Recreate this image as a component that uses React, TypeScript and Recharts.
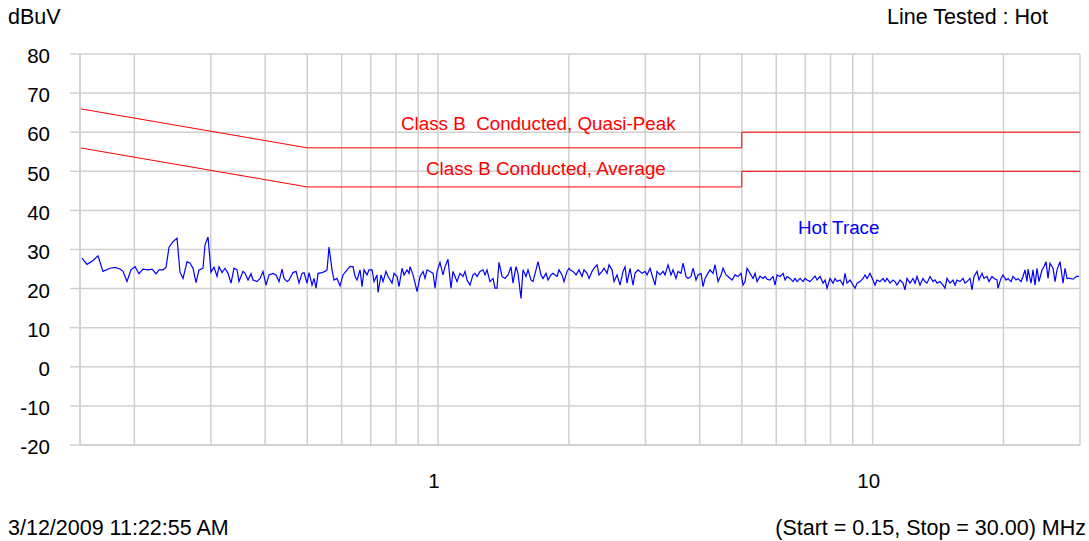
import { LineChart, Line, XAxis, YAxis, CartesianGrid } from "recharts";

const FONT = "'Liberation Sans', Arial, Helvetica, sans-serif";
const GRID = "#d0d0d0";

// log grid, only 1 and 10 get a label
const freqTicks = [
  0.15, 0.2, 0.3, 0.4, 0.5, 0.6, 0.7, 0.8, 0.9, 1, 2, 3, 4, 5, 6, 7, 8, 9, 10,
  20, 30,
];
const labelledFreqs = [1, 10];
const levelTicks = [-20, -10, 0, 10, 20, 30, 40, 50, 60, 70, 80];

// EN55022 class B limits
const limitMHz = [0.15, 0.5, 5, 5, 30];
const qpLimit = [66, 56, 56, 60, 60];
const avgLimit = [56, 46, 46, 50, 50];

// hot line scan
const traceMHz = [
  0.1516, 0.1557, 0.1607, 0.165, 0.1694, 0.1759, 0.1806, 0.1854, 0.1884, 0.1924,
  0.1965, 0.2008, 0.205, 0.2094, 0.2151, 0.2197, 0.2244, 0.228, 0.2329, 0.2366,
  0.2404, 0.2455, 0.2508, 0.2548, 0.2589, 0.2645, 0.2687, 0.273, 0.2774, 0.2818,
  0.2878, 0.2909, 0.2956, 0.3003, 0.3051, 0.31, 0.3133, 0.3184, 0.3235, 0.3286,
  0.3339, 0.3392, 0.3447, 0.3483, 0.3558, 0.3596, 0.3654, 0.3712, 0.3752, 0.3832,
  0.3894, 0.3956, 0.4019, 0.4083, 0.4171, 0.4238, 0.4306, 0.4375, 0.4421, 0.4492,
  0.454, 0.4637, 0.4712, 0.4787, 0.4864, 0.4916, 0.4995, 0.5048, 0.5129, 0.5183,
  0.5239, 0.5294, 0.5408, 0.5495, 0.5553, 0.5612, 0.5702, 0.5763, 0.5855, 0.5949,
  0.6044, 0.6174, 0.6273, 0.6373, 0.6442, 0.651, 0.6614, 0.6685, 0.6756, 0.6864,
  0.6937, 0.7049, 0.7123, 0.7238, 0.7276, 0.7393, 0.7471, 0.7591, 0.7672, 0.7837,
  0.792, 0.8047, 0.8132, 0.8263, 0.8351, 0.8485, 0.8575, 0.8621, 0.8759, 0.8853,
  0.8947, 0.909, 0.9235, 0.9334, 0.9434, 0.9585, 0.9738, 0.9843, 0.9947, 1.0103,
  1.0265, 1.0375, 1.054, 1.0709, 1.0823, 1.094, 1.1056, 1.1233, 1.1413, 1.1535,
  1.1658, 1.1844, 1.2033, 1.2163, 1.2292, 1.2489, 1.2689, 1.2825, 1.2961, 1.3168,
  1.3379, 1.3522, 1.3666, 1.3811, 1.4034, 1.4259, 1.4486, 1.4718, 1.4874, 1.5113,
  1.5274, 1.5519, 1.5684, 1.5936, 1.6105, 1.6363, 1.6537, 1.6803, 1.6982, 1.7254,
  1.7438, 1.7717, 1.7906, 1.8193, 1.8387, 1.8781, 1.898, 1.9286, 1.949, 1.9803,
  2.0013, 2.012, 2.0442, 2.077, 2.1102, 2.1442, 2.1669, 2.2017, 2.225, 2.2609,
  2.2849, 2.3216, 2.3462, 2.3839, 2.4092, 2.4479, 2.4738, 2.5137, 2.5403, 2.5811,
  2.6224, 2.6644, 2.6929, 2.7215, 2.7651, 2.8093, 2.8395, 2.8848, 2.9468, 2.994,
  3.0258, 3.0743, 3.1235, 3.157, 3.1905, 3.2416, 3.2935, 3.3288, 3.382, 3.4361,
  3.4727, 3.5284, 3.566, 3.6231, 3.6617, 3.7204, 3.7601, 3.8202, 3.8609, 3.9228,
  3.9647, 4.0281, 4.071, 4.1147, 4.1584, 4.225, 4.2926, 4.3387, 4.4079, 4.4785,
  4.5262, 4.5988, 4.6478, 4.7476, 4.8237, 4.9007, 4.9791, 5.0321, 5.0861, 5.1401,
  5.2225, 5.3061, 5.363, 5.4199, 5.5067, 5.5948, 5.6548, 5.7149, 5.8063, 5.8992,
  5.9625, 6.0258, 6.1223, 6.2203, 6.287, 6.3537, 6.4555, 6.5588, 6.6292, 6.6995,
  6.8068, 6.9157, 6.9899, 7.0641, 7.1772, 7.292, 7.3703, 7.4485, 7.5678, 7.6889,
  7.7714, 7.8539, 7.9797, 8.1074, 8.1944, 8.2813, 8.4139, 8.5485, 8.6402, 8.732,
  8.8718, 9.0137, 9.1105, 9.2072, 9.3546, 9.5043, 9.6062, 9.7082, 9.8601, 10.018,
  10.125, 10.233, 10.397, 10.563, 10.677, 10.79, 10.963, 11.138, 11.258, 11.377,
  11.559, 11.744, 11.87, 11.996, 12.188, 12.383, 12.516, 12.649, 12.852, 13.058,
  13.198, 13.338, 13.551, 13.768, 13.916, 14.063, 14.289, 14.518, 14.673, 14.829,
  15.066, 15.307, 15.471, 15.636, 15.886, 16.14, 16.313, 16.487, 16.751, 16.93,
  17.109, 17.384, 17.568, 17.851, 18.04, 18.33, 18.524, 18.82, 19.019, 19.325,
  19.427, 19.738, 19.948, 20.268, 20.484, 20.815, 21.036, 21.374, 21.602, 21.948,
  22.181, 22.419, 22.657, 22.777, 23.142, 23.388, 23.639, 23.89, 24.143, 24.533,
  24.792, 25.057, 25.324, 25.594, 26.003, 26.282, 26.561, 26.986, 27.418, 27.712,
  28.006, 28.455, 28.91, 29.531, 29.844,
];

const traceDbuv = [
  27.8, 26.2, 27.2, 28.4, 24.4, 25.2, 25.4, 25.0, 24.4, 21.8,
  24.8, 25.6, 23.8, 25.0, 24.8, 25.0, 23.8, 24.8, 24.8, 25.4,
  30.6, 32.0, 32.9, 24.2, 22.6, 26.9, 26.5, 25.2, 21.5, 24.8,
  25.2, 31.2, 33.2, 24.2, 25.5, 23.1, 25.6, 24.1, 25.2, 23.9,
  21.4, 25.2, 24.8, 21.8, 24.4, 23.9, 22.2, 23.8, 22.2, 21.8,
  22.6, 24.4, 20.9, 23.5, 23.9, 23.5, 21.8, 25.0, 22.6, 21.8,
  22.2, 24.1, 24.4, 21.4, 23.9, 24.1, 21.4, 24.1, 20.9, 22.6,
  20.1, 23.9, 24.1, 24.4, 24.8, 30.6, 24.8, 22.2, 22.6, 20.7,
  23.5, 24.8, 25.6, 25.6, 23.1, 22.2, 24.8, 20.5, 24.8, 23.5,
  24.8, 24.8, 21.8, 23.5, 19.0, 23.5, 21.8, 24.4, 23.1, 21.4,
  23.9, 23.1, 20.5, 25.2, 23.5, 24.8, 23.9, 25.6, 23.5, 21.4,
  19.2, 23.1, 24.4, 22.6, 24.8, 24.4, 23.9, 20.1, 24.4, 26.7,
  23.5, 25.6, 27.5, 20.1, 24.4, 23.1, 21.8, 23.9, 23.1, 24.4,
  22.2, 20.9, 23.5, 23.9, 23.1, 24.4, 24.8, 23.5, 24.8, 21.8,
  22.6, 20.1, 20.1, 26.7, 23.1, 22.6, 23.5, 25.6, 21.4, 25.6,
  23.9, 17.5, 24.8, 23.1, 24.8, 22.2, 21.8, 24.8, 26.9, 23.5,
  22.6, 23.9, 22.2, 23.5, 23.9, 23.1, 24.8, 23.5, 21.8, 24.4,
  25.2, 24.8, 24.4, 23.5, 24.8, 23.1, 24.8, 23.9, 22.6, 24.4,
  25.2, 26.1, 23.5, 24.4, 25.2, 23.9, 26.1, 24.8, 21.8, 23.5,
  20.9, 24.4, 25.6, 21.4, 25.2, 20.9, 23.9, 24.8, 23.9, 24.4,
  23.5, 25.2, 22.6, 20.9, 24.4, 23.5, 24.4, 23.5, 26.1, 23.5,
  24.8, 22.6, 24.4, 23.9, 26.5, 23.1, 22.6, 23.1, 25.2, 22.2,
  23.5, 23.9, 20.5, 22.6, 23.5, 24.8, 23.9, 26.1, 21.8, 23.5,
  25.2, 23.5, 23.1, 22.2, 23.5, 23.1, 23.9, 20.9, 21.8, 25.2,
  23.9, 22.6, 23.9, 21.8, 23.2, 22.6, 23.1, 22.4, 22.2, 23.1,
  20.9, 23.5, 23.1, 23.9, 22.2, 23.1, 22.6, 21.8, 22.6, 21.8,
  22.6, 21.8, 22.6, 22.2, 21.8, 22.6, 23.2, 22.2, 23.1, 21.4,
  22.2, 20.1, 22.6, 21.4, 22.6, 21.8, 22.2, 20.9, 23.9, 21.4,
  22.2, 20.9, 20.1, 21.4, 21.8, 22.6, 23.5, 22.6, 23.9, 22.2,
  20.9, 22.2, 21.8, 22.6, 21.8, 22.6, 21.4, 22.2, 21.8, 20.9,
  22.2, 21.4, 19.7, 22.6, 21.4, 22.6, 21.4, 23.1, 20.9, 22.6,
  21.8, 21.4, 23.1, 21.8, 22.2, 21.4, 21.8, 20.9, 20.1, 22.6,
  21.4, 22.2, 20.9, 22.2, 21.8, 22.6, 21.4, 21.8, 22.6, 19.7,
  23.1, 24.4, 22.2, 23.9, 22.6, 23.1, 21.8, 23.1, 22.6, 22.2,
  20.1, 22.6, 23.5, 22.2, 22.6, 21.8, 23.1, 22.2, 22.6, 21.8,
  23.1, 24.8, 21.8, 25.0, 21.4, 24.8, 20.9, 25.2, 21.8, 24.8,
  25.6, 26.9, 22.6, 26.5, 25.2, 21.8, 24.8, 26.9, 21.4, 25.2,
  22.6, 22.6, 22.4, 23.2, 23.1,
];

const traceData = traceMHz.map((f, i) => ({ f, level: traceDbuv[i] }));
const qpData = limitMHz.map((f, i) => ({ f, level: qpLimit[i] }));
const avgData = limitMHz.map((f, i) => ({ f, level: avgLimit[i] }));

const W = 1089;
const H = 541;

export default function App() {
  return (
    <div
      style={{
        position: "absolute",
        left: 0,
        top: 0,
        width: W,
        height: H,
        background: "#fff",
      }}
    >
      <LineChart
        width={W}
        height={H}
        margin={{ top: 54, right: 9, left: 0, bottom: 36 }}
      >
        <CartesianGrid stroke={GRID} strokeWidth={1.5} />
        <XAxis
          type="number"
          dataKey="f"
          scale="log"
          domain={[0.15, 30]}
          allowDataOverflow
          ticks={freqTicks}
          interval={0}
          height={60}
          tickSize={0}
          tickMargin={28}
          axisLine={{ stroke: GRID, strokeWidth: 1.5 }}
          tickFormatter={(v) => (labelledFreqs.includes(v) ? String(v) : "")}
          tick={{ fontSize: 20.5, fill: "#000", fontFamily: FONT, dx: -4 }}
        />
        <YAxis
          type="number"
          domain={[-20, 80]}
          ticks={levelTicks}
          interval={0}
          width={80}
          tickSize={10}
          tickMargin={20}
          axisLine={{ stroke: GRID, strokeWidth: 1.5 }}
          tickLine={{ stroke: GRID, strokeWidth: 1.5 }}
          tick={{ fontSize: 20.5, fill: "#000", fontFamily: FONT, dy: 2 }}
        />
        <Line
          data={qpData}
          dataKey="level"
          type="linear"
          stroke="#ff0000"
          strokeWidth={1}
          dot={false}
          isAnimationActive={false}
        />
        <Line
          data={avgData}
          dataKey="level"
          type="linear"
          stroke="#ff0000"
          strokeWidth={1}
          dot={false}
          isAnimationActive={false}
        />
        <Line
          data={traceData}
          dataKey="level"
          type="linear"
          stroke="#0000ff"
          strokeWidth={1.2}
          dot={false}
          isAnimationActive={false}
        />
      </LineChart>
      <svg
        width={W}
        height={H}
        style={{ position: "absolute", left: 0, top: 0, pointerEvents: "none" }}
        fontFamily={FONT}
      >
        <text x={8} y={24} fontSize={21.5} fill="#000">
          dBuV
        </text>
        <text x={1048} y={24} fontSize={21.5} fill="#000" textAnchor="end">
          Line Tested : Hot
        </text>
        <text x={401} y={130} fontSize={18.8} fill="#ff0000" xmlSpace="preserve">
          Class B  Conducted, Quasi-Peak
        </text>
        <text x={426} y={175} fontSize={18.8} fill="#ff0000">
          Class B Conducted, Average
        </text>
        <text x={798} y={234} fontSize={18.8} fill="#0000ff">
          Hot Trace
        </text>
        <text x={8} y={535} fontSize={21.5} fill="#000">
          3/12/2009 11:22:55 AM
        </text>
        <text x={1086} y={535} fontSize={21.5} fill="#000" textAnchor="end">
          (Start = 0.15, Stop = 30.00) MHz
        </text>
      </svg>
    </div>
  );
}
